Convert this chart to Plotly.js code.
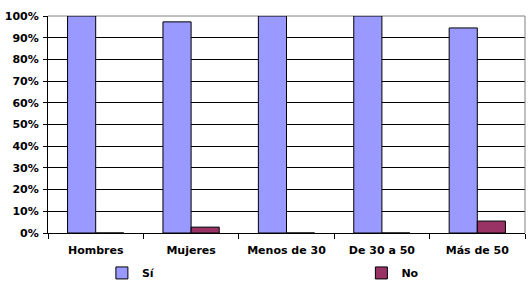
<!DOCTYPE html>
<html>
<head>
<meta charset="utf-8">
<script src="https://cdn.plot.ly/plotly-3.0.1.min.js"></script>
<style>html,body{margin:0;padding:0;background:#fff;}#chart{width:530px;height:288px;}</style>
</head>
<body>
<div id="chart"></div>
<script>
const categories = ["Hombres", "Mujeres", "Menos de 30", "De 30 a 50", "Más de 50"];
const siValues = [100, 97.3, 100, 100, 94.5];
const noValues = [0, 2.7, 0, 0, 5.5];
const yTickVals = [0, 10, 20, 30, 40, 50, 60, 70, 80, 90, 100];
const yTickText = ["0%", "10%", "20%", "30%", "40%", "50%", "60%", "70%", "80%", "90%", "100%"];

const fontFam = "DejaVu Sans, Verdana, sans-serif";
const legFont = {family: fontFam, size: 11, color: "#000", weight: "bold"};
const data = [
  {type: "bar", name: "Sí", x: categories, y: siValues, legend: "legend",
   marker: {color: "#9999FF", line: {color: "#000", width: 1}}},
  {type: "bar", name: "No", x: categories, y: noValues, legend: "legend2",
   marker: {color: "#993366", line: {color: "#000", width: 1}}}
];
const layout = {
  width: 530, height: 288,
  margin: {l: 48, r: 5, t: 16, b: 55, autoexpand: false},
  paper_bgcolor: "#fff", plot_bgcolor: "#fff",
  font: {family: fontFam, size: 11, color: "#000", weight: "bold"},
  barmode: "group", bargap: 0.41, bargroupgap: 0,
  showlegend: true,
  legend: {orientation: "h", x: 0.113, xanchor: "left", y: -0.184, yanchor: "middle",
           itemwidth: 30, font: legFont, bgcolor: "rgba(0,0,0,0)"},
  legend2: {orientation: "h", x: 0.657, xanchor: "left", y: -0.184, yanchor: "middle",
           itemwidth: 30, font: legFont, bgcolor: "rgba(0,0,0,0)"},
  xaxis: {showline: true, linecolor: "#000", linewidth: 1, ticks: "outside", tickson: "boundaries",
          ticklen: 5, tickcolor: "#000", showgrid: false, fixedrange: true, ticklabelstandoff: 7,
          tickfont: {family: fontFam, size: 11, weight: "bold"}},
  yaxis: {range: [0, 100], tickvals: yTickVals, ticktext: yTickText, showline: true, linecolor: "#000",
          linewidth: 1, ticks: "outside", ticklen: 4, tickcolor: "#000", showgrid: true,
          gridcolor: "#000", gridwidth: 1, zeroline: false, fixedrange: true, ticklabelstandoff: 2,
          tickfont: {family: fontFam, size: 11, weight: "bold"}},
  shapes: [
    {type: "line", xref: "paper", yref: "paper", x0: 0, x1: 1, y0: 1, y1: 1, line: {color: "#808080", width: 1}, layer: "below"},
    {type: "line", xref: "paper", yref: "paper", x0: 1, x1: 1, y0: 0, y1: 1, line: {color: "#808080", width: 1}, layer: "above"}
  ]
};
Plotly.newPlot("chart", data, layout, {displayModeBar: false, staticPlot: true});
</script>
</body>
</html>
